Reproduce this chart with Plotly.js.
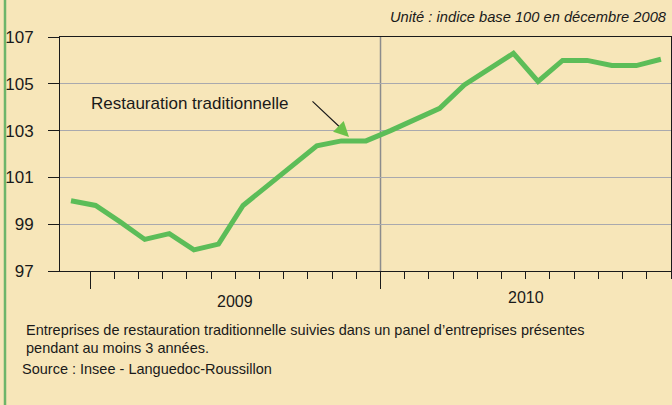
<!DOCTYPE html>
<html>
<head>
<meta charset="utf-8">
<script src="https://cdn.plot.ly/plotly-3.0.1.min.js"></script>
<style>
html,body{margin:0;padding:0;background:#F7E6B9;}
#chart{width:672px;height:405px;}
</style>
</head>
<body>
<div id="chart"></div>
<script>
// Months: December 2008 to December 2010
const months = ['déc. 2008',
  'janv. 2009','févr. 2009','mars 2009','avr. 2009','mai 2009','juin 2009',
  'juil. 2009','août 2009','sept. 2009','oct. 2009','nov. 2009','déc. 2009',
  'janv. 2010','févr. 2010','mars 2010','avr. 2010','mai 2010','juin 2010',
  'juil. 2010','août 2010','sept. 2010','oct. 2010','nov. 2010','déc. 2010'];
// Index base 100 in December 2008 — Restauration traditionnelle
const restauration = [100.0,
  99.8, 99.1, 98.35, 98.6, 97.9, 98.15,
  99.8, 100.65, 101.5, 102.35, 102.56, 102.56,
  103.0, 103.5, 103.95, 104.95, 105.6, 106.3,
  105.1, 106.0, 106.0, 105.78, 105.78, 106.05];
const yTicks = [97, 99, 101, 103, 105, 107];
const yearLabels = ['2009', '2010'];
const seriesName = 'Restauration traditionnelle';
const unitText = 'Unité : indice base 100 en décembre 2008';
const noteLine1 = 'Entreprises de restauration traditionnelle suivies dans un panel d\u2019entreprises présentes';
const noteLine2 = 'pendant au moins 3 années.';
const sourceText = 'Source : Insee - Languedoc-Roussillon';

const FONT = 'Liberation Sans, Arial, sans-serif';
const W = 672, H = 405, L = 60, R = 1, T = 37, B = 134;
const pw = W - L - R, ph = H - T - B;
const px = v => (v - L) / pw;         // pixel x -> paper
const py = v => (H - B - v) / ph;     // pixel y -> paper

const monthTicks = [];
for (let i = 0; i <= 24; i++) monthTicks.push(i);

const traces = [
  {x: months, y: restauration, type: 'scatter', mode: 'lines',
   line: {color: '#5CBD58', width: 5}, hoverinfo: 'x+y', showlegend: false},
  {x: [], y: [], xaxis: 'x2', type: 'scatter', mode: 'lines', showlegend: false, hoverinfo: 'skip'},
  {x: [], y: [], xaxis: 'x3', type: 'scatter', mode: 'lines', showlegend: false, hoverinfo: 'skip'}
];

const layout = {
  width: W, height: H,
  margin: {l: L, r: R, t: T, b: B, pad: 0},
  paper_bgcolor: '#F7E6B9', plot_bgcolor: '#F7E6B9',
  font: {family: FONT, color: '#1a1a1a', size: 17},
  showlegend: false,
  xaxis: {type: 'category', range: [-0.4475, 24.41], showticklabels: false,
          ticks: '', showgrid: false, zeroline: false,
          showline: true, linecolor: '#1a1a1a', linewidth: 1, mirror: true},
  xaxis2: {overlaying: 'x', anchor: 'y', range: [-1.24, 24], showticklabels: false,
           tickmode: 'array', tickvals: monthTicks, ticks: 'outside', ticklen: 7,
           tickcolor: '#1a1a1a', tickwidth: 1, showgrid: false, zeroline: false, showline: false},
  xaxis3: {overlaying: 'x', anchor: 'y', range: [-1.24, 24], showticklabels: false,
           tickmode: 'array', tickvals: [0, 12], ticks: 'outside', ticklen: 17,
           tickcolor: '#1a1a1a', tickwidth: 1, showgrid: false, zeroline: false, showline: false},
  yaxis: {range: [97, 107], tickmode: 'array', tickvals: yTicks,
          ticks: 'outside', ticklen: 11, tickcolor: '#1a1a1a', tickwidth: 1,
          ticklabelstandoff: 11,
          showgrid: true, gridcolor: '#A9A9AE', gridwidth: 1, zeroline: false,
          showline: true, linecolor: '#1a1a1a', linewidth: 1, mirror: true,
          tickfont: {size: 17, family: FONT, color: '#1a1a1a'}},
  shapes: [
    {type: 'line', xref: 'x2', yref: 'paper', x0: 12, x1: 12, y0: 0, y1: 1,
     line: {color: '#8C8C8C', width: 1.5}, layer: 'below'},
    {type: 'line', xref: 'paper', yref: 'paper', x0: px(5), x1: px(5), y0: py(0), y1: py(H),
     line: {color: '#6DB56A', width: 2.5}}
  ],
  annotations: [
    {text: unitText, xref: 'paper', yref: 'paper', x: px(669), y: py(17),
     xanchor: 'right', yanchor: 'middle', showarrow: false,
     font: {family: FONT, size: 14.7, color: '#1a1a1a', style: 'italic'}},
    {text: seriesName, xref: 'paper', yref: 'paper', x: px(89), y: py(103),
     xanchor: 'left', yanchor: 'middle', showarrow: false,
     font: {family: FONT, size: 17, color: '#1a1a1a'}},
    {text: '', xref: 'paper', yref: 'paper', x: px(345), y: py(132),
     ax: px(311), ay: py(100), axref: 'paper', ayref: 'paper',
     showarrow: true, arrowhead: 0, arrowwidth: 1.2, arrowcolor: '#1a1a1a'},
    {text: '', xref: 'paper', yref: 'paper', x: px(349), y: py(137),
     ax: px(344), ay: py(132), axref: 'paper', ayref: 'paper',
     showarrow: true, arrowhead: 2, arrowsize: 1.5, arrowwidth: 2, arrowcolor: '#6CC24A'},
    {text: yearLabels[0], xref: 'x2', yref: 'paper', x: 6, y: py(301),
     xanchor: 'center', yanchor: 'middle', showarrow: false,
     font: {family: FONT, size: 16, color: '#1a1a1a'}},
    {text: yearLabels[1], xref: 'x2', yref: 'paper', x: 18, y: py(297),
     xanchor: 'center', yanchor: 'middle', showarrow: false,
     font: {family: FONT, size: 16, color: '#1a1a1a'}},
    {text: noteLine1, xref: 'paper', yref: 'paper', x: px(24), y: py(330),
     xanchor: 'left', yanchor: 'middle', showarrow: false,
     font: {family: FONT, size: 14.5, color: '#1a1a1a'}},
    {text: noteLine2, xref: 'paper', yref: 'paper', x: px(24), y: py(348),
     xanchor: 'left', yanchor: 'middle', showarrow: false,
     font: {family: FONT, size: 14.5, color: '#1a1a1a'}},
    {text: sourceText, xref: 'paper', yref: 'paper', x: px(20), y: py(369),
     xanchor: 'left', yanchor: 'middle', showarrow: false,
     font: {family: FONT, size: 14.5, color: '#1a1a1a'}}
  ]
};

Plotly.newPlot('chart', traces, layout, {displayModeBar: false, staticPlot: true});
</script>
</body>
</html>
